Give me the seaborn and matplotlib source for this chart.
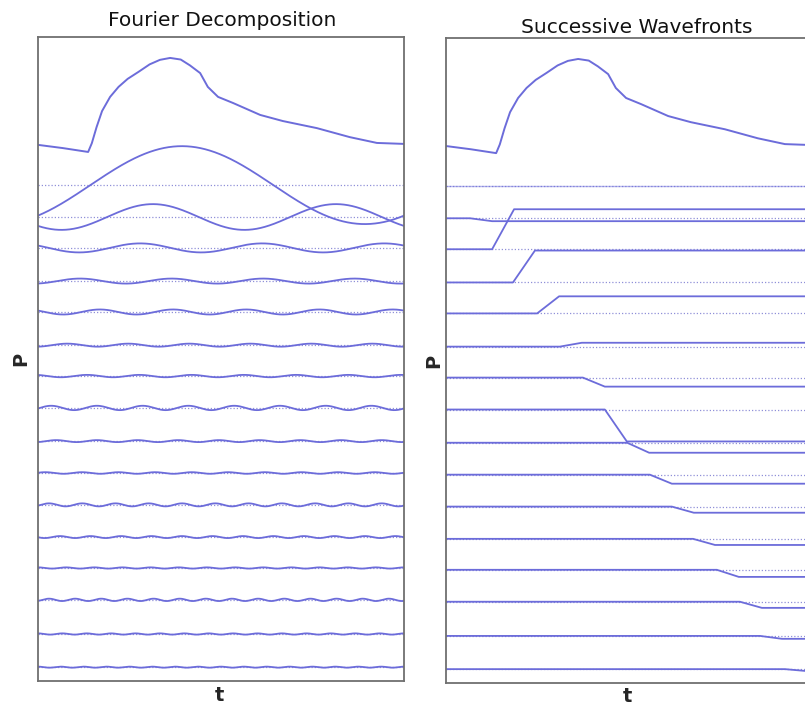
import numpy as np
import matplotlib
matplotlib.use("Agg")
import matplotlib.pyplot as plt
import seaborn as sns

# ---- data ----
# composite pressure waveform (top trace), t in [0, 1]
wave_t = [0.0, 0.068, 0.137, 0.147, 0.160, 0.175, 0.197, 0.220, 0.245, 0.275,
          0.305, 0.333, 0.361, 0.390, 0.415, 0.443, 0.464, 0.492, 0.533, 0.607,
          0.669, 0.762, 0.852, 0.926, 1.0]
wave_p = [16.65, 16.55, 16.43, 16.70, 17.20, 17.70, 18.14, 18.45, 18.70, 18.92,
          19.15, 19.29, 19.35, 19.30, 19.12, 18.88, 18.45, 18.14, 17.95, 17.58,
          17.39, 17.17, 16.89, 16.71, 16.68]

# vertical offsets of the component rows
row_offsets = [15.40, 14.41, 13.45, 12.42, 11.46, 10.43, 9.47, 8.48, 7.45,
               6.46, 5.47, 4.47, 3.51, 2.52, 1.46, 0.43]

# Fourier harmonics: order, amplitude, time of first peak
harmonic_n = [1, 2, 3, 4, 5, 6, 7, 8, 9, 10, 11, 12, 13, 14, 15, 16]
harmonic_amp = [1.21, 0.40, 0.14, 0.078, 0.078, 0.047, 0.037, 0.068, 0.031,
                0.025, 0.047, 0.031, 0.019, 0.037, 0.019, 0.016]
harmonic_peak_t = [0.393, 0.314, 0.279, 0.115, 0.169, 0.08, 0.134, 0.161, 0.05,
                   0.02, 0.03, 0.06, 0.0, 0.03, 0.0, 0.0]

# successive wavefronts: arrival time and pressure step
front_t = [0.0, 0.066, 0.126, 0.183, 0.249, 0.311, 0.374, 0.434, 0.495, 0.557,
           0.617, 0.675, 0.740, 0.803, 0.858, 0.926]
front_dp = [0.0, -0.09, 1.24, 0.99, 0.53, 0.12, -0.28, -0.99, -0.31, -0.28,
            -0.19, -0.19, -0.22, -0.19, -0.09, -0.06]
front_rise = 0.06

titles = ["Fourier Decomposition", "Successive Wavefronts"]

# ---- style ----
sns.set_style("white")
plt.rcParams['font.family'] = ['DejaVu Sans']
LINE = '#6c6cda'
DOT = '#9090d8'
SPINE = '#707070'

fig = plt.figure(figsize=(8.05, 7.07), dpi=100)
axL = fig.add_axes([38/805, 26/707, 366/805, 644/707])
axR = fig.add_axes([446/805, 24/707, 366/805, 645/707])

tt = np.linspace(0, 1, 800)

for ax in (axL, axR):
    sns.lineplot(x=wave_t, y=wave_p, ax=ax, color=LINE, linewidth=1.4,
                 estimator=None, sort=False)
    for off in row_offsets:
        sns.lineplot(x=[0, 1], y=[off, off], ax=ax, color=DOT, linewidth=0.9,
                     linestyle=(0, (1, 1.6)), estimator=None, sort=False)

# Fourier components
for n, a, tp, off in zip(harmonic_n, harmonic_amp, harmonic_peak_t, row_offsets):
    yy = off + a * np.cos(2 * np.pi * n * (tt - tp))
    sns.lineplot(x=tt, y=yy, ax=axL, color=LINE, linewidth=1.3,
                 estimator=None, sort=False)

# wavefront steps
for ts, dp, off in zip(front_t, front_dp, row_offsets):
    if dp == 0.0:
        sns.lineplot(x=[0, 1], y=[off, off], ax=axR, color=LINE, linewidth=1.0,
                     alpha=0.5, estimator=None, sort=False)
        continue
    xs = [0, ts, ts + front_rise, 1]
    ys = [off, off, off + dp, off + dp]
    sns.lineplot(x=xs, y=ys, ax=axR, color=LINE, linewidth=1.3,
                 estimator=None, sort=False)

for ax, title, tx, ty in ((axL, titles[0], 0.503, 1.017),
                          (axR, titles[1], 0.522, 1.008)):
    ax.set_xlim(0, 1)
    ax.set_ylim(0, 20)
    ax.set_xticks([])
    ax.set_yticks([])
    for s in ax.spines.values():
        s.set_color(SPINE)
        s.set_linewidth(1.3)
        s.set_visible(True)
    ax.text(tx, ty, title, transform=ax.transAxes, ha='center', va='baseline',
            fontsize=14.5, color='#111111')
    ax.set_xlabel('t', fontsize=14, fontweight='bold')
    ax.set_ylabel('P', fontsize=14, fontweight='bold')

axL.xaxis.set_label_coords(0.497, -0.008)
axR.xaxis.set_label_coords(0.495, -0.006)
axL.yaxis.set_label_coords(-0.022, 0.50)
axR.yaxis.set_label_coords(-0.008, 0.50)

fig.savefig("out.png", dpi=100)
